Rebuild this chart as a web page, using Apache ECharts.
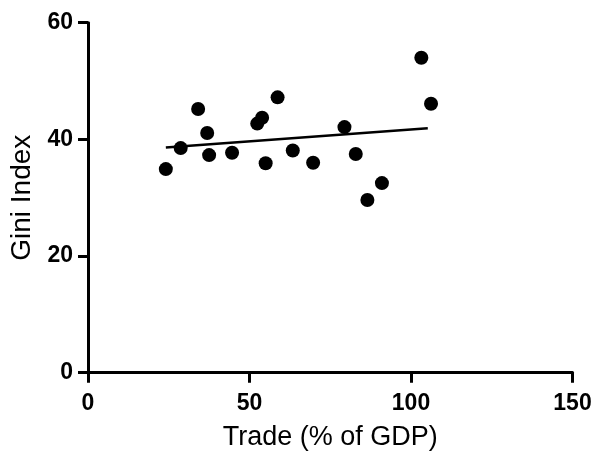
<!DOCTYPE html>
<html>
<head>
<meta charset="utf-8">
<script src="https://cdn.jsdelivr.net/npm/echarts@6/dist/echarts.min.js"></script>
<style>
  html, body { margin: 0; padding: 0; background: #fff; }
  #chart { width: 593px; height: 456px; }
</style>
</head>
<body>
<div id="chart"></div>
<script>
// trade (% of GDP) vs gini index
const tradeValues = [24.1, 28.7, 34.1, 36.9, 37.5, 44.6, 52.4, 53.9, 55.0, 58.7, 63.4, 69.7, 79.4, 82.9, 86.5, 91.0, 103.2, 106.2];
const giniValues = [34.9, 38.5, 45.2, 41.1, 37.3, 37.7, 42.7, 43.7, 35.9, 47.2, 38.1, 36.0, 42.1, 37.5, 29.6, 32.5, 54.0, 46.1];
// fitted line end points as drawn
const fitX = [24.1, 105.2];
const fitY = [38.6, 41.9];
const xTicks = [0, 50, 100, 150];
const yTicks = [0, 20, 40, 60];

const font = 'Liberation Sans, Arial, sans-serif';
const points = tradeValues.map((x, i) => [x, giniValues[i]]);
const fitLine = fitX.map((x, i) => [x, fitY[i]]);

const chart = echarts.init(document.getElementById('chart'));

const axisLine = { show: true, lineStyle: { color: '#000', width: 3 } };
const axisTick = { show: true, length: 10, lineStyle: { color: '#000', width: 3 } };

chart.setOption({
  backgroundColor: '#fff',
  animation: false,
  grid: { left: 88, right: 20.5, top: 22.7, bottom: 83.3, outerBoundsMode: 'none', containLabel: false },
  xAxis: {
    type: 'value',
    min: xTicks[0],
    max: xTicks[xTicks.length - 1],
    interval: xTicks[1] - xTicks[0],
    name: 'Trade (% of GDP)',
    nameLocation: 'middle',
    nameGap: 51,
    nameTextStyle: { fontFamily: font, fontSize: 27, color: '#000' },
    axisLine: axisLine,
    axisTick: axisTick,
    splitLine: { show: false },
    axisLabel: { fontFamily: font, fontSize: 23, fontWeight: 'bold', color: '#000', margin: 19 }
  },
  yAxis: {
    type: 'value',
    min: yTicks[0],
    max: yTicks[yTicks.length - 1],
    interval: yTicks[1] - yTicks[0],
    name: 'Gini Index',
    nameLocation: 'middle',
    nameGap: 51,
    nameTextStyle: { fontFamily: font, fontSize: 28, color: '#000' },
    axisLine: axisLine,
    axisTick: axisTick,
    splitLine: { show: false },
    axisLabel: { fontFamily: font, fontSize: 23, fontWeight: 'bold', color: '#000', margin: 15 }
  },
  series: [
    {
      type: 'scatter',
      data: points,
      symbol: 'circle',
      symbolSize: 14,
      itemStyle: { color: '#000', opacity: 1 }
    },
    {
      type: 'line',
      data: fitLine,
      symbol: 'none',
      lineStyle: { color: '#000', width: 2.5 }
    }
  ]
});
</script>
</body>
</html>
